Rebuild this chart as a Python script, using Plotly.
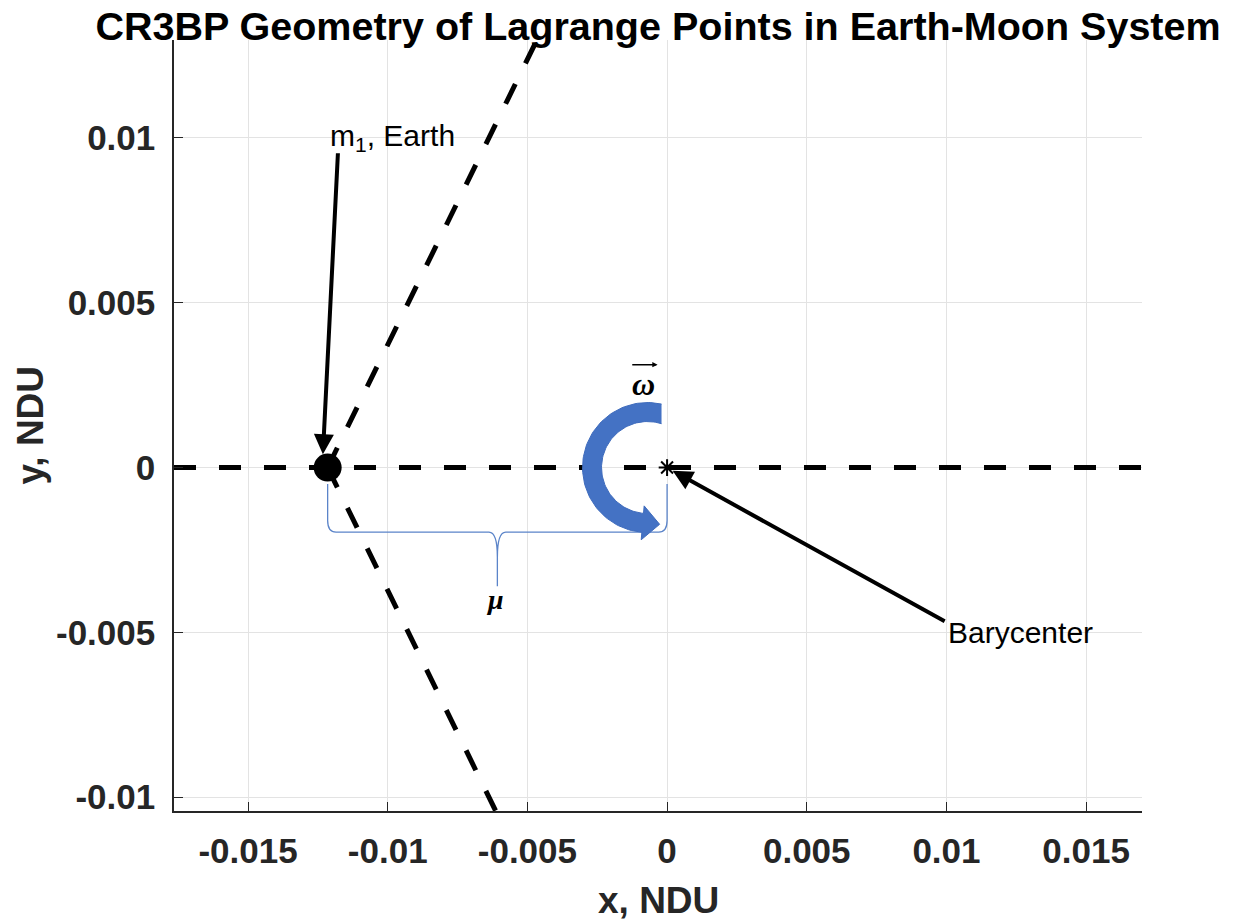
import numpy as np
import plotly.graph_objects as go

# Earth-Moon mass parameter (non-dimensional)
MU = 0.01215

# Axis limits and ticks (NDU)
X_RANGE = [-0.01765, 0.0170]
Y_RANGE = [-0.01042, 0.01297]
X_TICKS = [-0.015, -0.01, -0.005, 0, 0.005, 0.01, 0.015]
X_TICK_TEXT = ["-0.015", "-0.01", "-0.005", "0", "0.005", "0.01", "0.015"]
Y_TICKS = [-0.01, -0.005, 0, 0.005, 0.01]
Y_TICK_TEXT = ["-0.01", "-0.005", "0", "0.005", "0.01"]

# Primary body and barycenter
EARTH_X, EARTH_Y = [-MU], [0.0]
BARY_X, BARY_Y = [0.0], [0.0]

# Equilateral points L4 / L5 (rays from Earth at +/-60 deg)
L4 = [0.5 - MU, np.sqrt(3) / 2]
L5 = [0.5 - MU, -np.sqrt(3) / 2]

W, H = 1233, 922
M_L, M_R, M_T, M_B = 174, 91, 40, 111
FONT = "Liberation Sans"
AX_COLOR = "#262626"

# data units per pixel, used for the rotation glyph
SX = (X_RANGE[1] - X_RANGE[0]) / (W - M_L - M_R)
SY = (Y_RANGE[1] - Y_RANGE[0]) / (H - M_T - M_B)

fig = go.Figure()

dash = "22px,23px"
fig.add_trace(go.Scatter(x=[X_RANGE[0], X_RANGE[1]], y=[0, 0], mode="lines",
                         line=dict(color="black", width=5, dash=dash),
                         hoverinfo="skip", showlegend=False))
for P in (L4, L5):
    fig.add_trace(go.Scatter(x=[EARTH_X[0], P[0]], y=[EARTH_Y[0], P[1]], mode="lines",
                             line=dict(color="black", width=5, dash=dash),
                             hoverinfo="skip", showlegend=False))

# curved rotation arrow (omega), built in pixel offsets around a centre
OMEGA_C = (-0.0007, 0.0)
R_OUT, R_IN = 65.0, 46.0
CUT = 14.0
A_END = np.deg2rad(265)
HEAD_HW, HEAD_LEN = 17.0, 17.0
a0_out = np.arccos(CUT / R_OUT)
a0_in = np.arccos(CUT / R_IN)
t_out = np.linspace(a0_out, A_END, 80)
t_in = np.linspace(A_END, a0_in, 80)
r_mid = 0.5 * (R_OUT + R_IN)
tan = np.array([-np.sin(A_END), np.cos(A_END)])
mid = r_mid * np.array([np.cos(A_END), np.sin(A_END)])
tip = mid + HEAD_LEN * tan
w_out = (r_mid + HEAD_HW) * np.array([np.cos(A_END), np.sin(A_END)])
w_in = (r_mid - HEAD_HW) * np.array([np.cos(A_END), np.sin(A_END)])
px = np.concatenate([R_OUT * np.cos(t_out), [w_out[0], tip[0], w_in[0]], R_IN * np.cos(t_in)])
py = np.concatenate([R_OUT * np.sin(t_out), [w_out[1], tip[1], w_in[1]], R_IN * np.sin(t_in)])
fig.add_trace(go.Scatter(x=OMEGA_C[0] + px * SX, y=OMEGA_C[1] + py * SY,
                         mode="lines", fill="toself", fillcolor="#4472C4",
                         line=dict(color="#3f6cbd", width=1),
                         hoverinfo="skip", showlegend=False))

fig.add_trace(go.Scatter(x=EARTH_X, y=EARTH_Y, mode="markers",
                         marker=dict(symbol="circle", size=28, color="black"),
                         hoverinfo="skip", showlegend=False))
fig.add_trace(go.Scatter(x=BARY_X, y=BARY_Y, mode="markers",
                         marker=dict(symbol="asterisk-open", size=14, color="black",
                                     line=dict(color="black", width=2)),
                         hoverinfo="skip", showlegend=False))

# brace marking the Earth-barycenter distance mu
xl, xr = -MU, 0.0
xm = 0.5 * (xl + xr)
y_top, y_h, y_tip = -0.0005, -0.00196, -0.0036
rx, ry, ry2 = 0.0003, 0.00035, 0.00076
brace = (f"M {xl},{y_top} L {xl},{y_h + ry} Q {xl},{y_h} {xl + rx},{y_h} "
         f"L {xm - rx},{y_h} Q {xm},{y_h} {xm},{y_h - ry2} L {xm},{y_tip} "
         f"L {xm},{y_h - ry2} Q {xm},{y_h} {xm + rx},{y_h} "
         f"L {xr - rx},{y_h} Q {xr},{y_h} {xr},{y_h + ry} L {xr},{y_top}")
fig.add_shape(type="path", path=brace, xref="x", yref="y", layer="between",
              line=dict(color="#5b84c9", width=1.3))

X_LABEL_Y = -(900 - (H - M_B)) / (H - M_T - M_B)
Y_LABEL_X = -(M_L - 30) / (W - M_L - M_R)

annotations = [
    dict(x=-MU, y=0.0100, xref="x", yref="y", text="m<sub>1</sub>, Earth",
         showarrow=False, xanchor="left", yanchor="middle",
         font=dict(family=FONT, size=30, color="black")),
    dict(x=0.0100, y=-0.0050, xref="x", yref="y", text="Barycenter",
         showarrow=False, xanchor="left", yanchor="middle",
         font=dict(family=FONT, size=30, color="black")),
    # arrow to Earth
    dict(x=-0.01232, y=0.0004, xref="x", yref="y", ax=-0.01178, ay=0.00958,
         axref="x", ayref="y", text="", showarrow=True, arrowhead=2,
         arrowsize=1.0, arrowwidth=4, arrowcolor="black"),
    # arrow to barycenter
    dict(x=0.0002, y=-0.0001, xref="x", yref="y", ax=0.00999, ay=-0.00469,
         axref="x", ayref="y", text="", showarrow=True, arrowhead=2,
         arrowsize=1.0, arrowwidth=4, arrowcolor="black"),
    # mu label
    dict(x=xm - 0.0001, y=-0.0040, xref="x", yref="y", text="<b><i>μ</i></b>",
         showarrow=False, font=dict(family="Liberation Serif", size=28, color="black")),
    # omega label with vector arrow
    dict(x=-0.00086, y=0.00252, xref="x", yref="y", text="<b><i>ω</i></b>",
         showarrow=False, font=dict(family="Liberation Serif", size=32, color="black")),
    dict(x=-0.00034, y=0.00312, ax=-0.00130, ay=0.00312, xref="x", yref="y",
         axref="x", ayref="y", text="", showarrow=True, arrowhead=2,
         arrowsize=0.7, arrowwidth=1.5, arrowcolor="black"),
    # axis titles
    dict(x=0.5, y=X_LABEL_Y, xref="paper", yref="paper", text="<b>x, NDU</b>",
         showarrow=False, xanchor="center", yanchor="middle",
         font=dict(family=FONT, size=37, color=AX_COLOR)),
    dict(x=Y_LABEL_X, y=0.5, xref="paper", yref="paper",
         text="<b>y, NDU</b>", showarrow=False, textangle=-90,
         xanchor="center", yanchor="middle",
         font=dict(family=FONT, size=37, color=AX_COLOR)),
]

axis_common = dict(showgrid=True, gridcolor="#e3e3e3", gridwidth=1, zeroline=False,
                   showline=True, linecolor=AX_COLOR, linewidth=1.5, mirror=False,
                   ticks="inside", ticklen=9, tickwidth=1, tickcolor=AX_COLOR,
                   tickfont=dict(family=FONT, size=35, color=AX_COLOR, weight="bold"))

fig.update_layout(
    width=W, height=H,
    margin=dict(l=M_L, r=M_R, t=M_T, b=M_B),
    paper_bgcolor="white", plot_bgcolor="white",
    title=dict(text="<b>CR3BP Geometry of Lagrange Points in Earth-Moon System</b>",
               x=0.5, xref="paper", xanchor="center",
               y=1 - 26 / H, yref="container", yanchor="middle",
               font=dict(family=FONT, size=39.5, color="black")),
    xaxis=dict(range=X_RANGE, tickvals=X_TICKS, ticktext=X_TICK_TEXT,
               ticklabelstandoff=8, **axis_common),
    yaxis=dict(range=Y_RANGE, tickvals=Y_TICKS, ticktext=Y_TICK_TEXT,
               ticklabelstandoff=10, **axis_common),
    annotations=annotations,
    showlegend=False,
)

fig.write_html("out.html")
